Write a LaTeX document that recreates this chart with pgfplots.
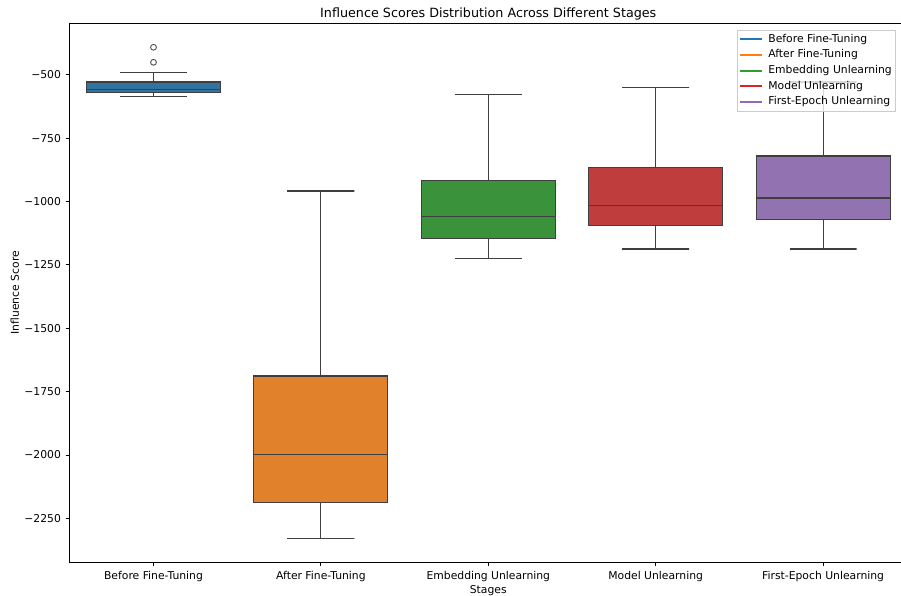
\documentclass[border=0pt]{standalone}
\usepackage{fontspec}
\setmainfont{DejaVu Sans}
\usepackage{pgfplots}
\pgfplotsset{compat=1.18}

\definecolor{boxA}{HTML}{3274A1}
\definecolor{boxB}{HTML}{E1812C}
\definecolor{boxC}{HTML}{3A923A}
\definecolor{boxD}{HTML}{C03D3E}
\definecolor{boxE}{HTML}{9372B2}
\definecolor{legA}{HTML}{1F77B4}
\definecolor{legB}{HTML}{FF7F0E}
\definecolor{legC}{HTML}{2CA02C}
\definecolor{legD}{HTML}{D62728}
\definecolor{legE}{HTML}{9467BD}
\definecolor{edge}{HTML}{3F3F3F}

\begin{document}
\begin{tikzpicture}
\useasboundingbox (-0.698in,-0.333in) rectangle (8.312in,5.627in);
\begin{axis}[
    scale only axis,
    width=8.37in, height=5.397in,
    xmin=-0.5, xmax=4.5,
    ymin=-2425, ymax=-296,
    axis line style={line width=0.6pt},
    xtick={0,1,2,3,4},
    xticklabels={Before Fine-Tuning, After Fine-Tuning, Embedding Unlearning, Model Unlearning, First-Epoch Unlearning},
    ytick={-2250,-2000,-1750,-1500,-1250,-1000,-750,-500},
    yticklabels={−2250,−2000,−1750,−1500,−1250,−1000,−750,−500},
    tick align=outside,
    xtick pos=bottom, ytick pos=left,
    major tick length=2.5pt,
    tick style={black, line width=0.6pt},
    tick label style={font=\fontsize{7.8}{9.4}\selectfont},
    yticklabel style={xshift=-0.4pt},
    every axis title shift=0pt,
    title={Influence Scores Distribution Across Different Stages},
    title style={font=\fontsize{9.2}{11}\selectfont,
        at={(axis description cs:0.5,1)}, anchor=base, yshift=0.057in},
    xlabel={Stages},
    ylabel={Influence Score},
    xlabel style={font=\fontsize{7.8}{9.4}\selectfont,
        at={(axis description cs:0.5,0)}, anchor=base, yshift=-0.303in},
    every axis y label/.style={font=\fontsize{7.8}{9.4}\selectfont,
        at={(axis description cs:-0.0607,0.5)}, rotate=90, anchor=base},
    legend style={at={(1,1)}, anchor=north east, xshift=-0.11in, yshift=-0.07in,
        draw=black!20, fill=white, fill opacity=0.8, inner sep=1.5pt,
        text opacity=1, font=\fontsize{7.8}{9.4}\selectfont,
        nodes={inner sep=1.2pt, text height=6pt, text depth=1.7pt},
        row sep=1.2pt, cells={anchor=west}},
    legend image code/.code={\draw[line width=1.4pt] (0pt,0pt) -- (15.5pt,0pt);
        \path (19pt,0pt);},
    bx/.style={forget plot, draw=edge, line width=0.8pt, no marks},
    wk/.style={forget plot, draw=edge, line width=0.8pt, no marks},
]
% Before Fine-Tuning
\addplot[bx, fill=boxA] coordinates {(-0.4,-571) (0.4,-571) (0.4,-528.8) (-0.4,-528.8)} --cycle;
\addplot[wk] coordinates {(-0.2,-586.8) (0.2,-586.8) (0,-586.8) (0,-571)};
\addplot[wk] coordinates {(-0.2,-490.5) (0.2,-490.5) (0,-490.5) (0,-528.8)};
\addplot[wk] coordinates {(-0.4,-557.6) (0.4,-557.6)};
\addplot[forget plot, only marks, mark=o, mark size=2.1pt,
    mark options={draw=edge, line width=0.6pt}]
    coordinates {(0,-391.9) (0,-451.1)};
% After Fine-Tuning
\addplot[bx, fill=boxB] coordinates {(0.6,-2186.9) (1.4,-2186.9) (1.4,-1688.6) (0.6,-1688.6)} --cycle;
\addplot[wk] coordinates {(0.8,-2328.9) (1.2,-2328.9) (1,-2328.9) (1,-2186.9)};
\addplot[wk] coordinates {(0.8,-958.8) (1.2,-958.8) (1,-958.8) (1,-1688.6)};
\addplot[wk] coordinates {(0.6,-1997.5) (1.4,-1997.5)};
% Embedding Unlearning
\addplot[bx, fill=boxC] coordinates {(1.6,-1145.4) (2.4,-1145.4) (2.4,-916.6) (1.6,-916.6)} --cycle;
\addplot[wk] coordinates {(1.8,-1225.9) (2.2,-1225.9) (2,-1225.9) (2,-1145.4)};
\addplot[wk] coordinates {(1.8,-577.3) (2.2,-577.3) (2,-577.3) (2,-916.6)};
\addplot[wk] coordinates {(1.6,-1060.2) (2.4,-1060.2)};
% Model Unlearning
\addplot[bx, fill=boxD] coordinates {(2.6,-1094.1) (3.4,-1094.1) (3.4,-865.3) (2.6,-865.3)} --cycle;
\addplot[wk] coordinates {(2.8,-1187.6) (3.2,-1187.6) (3,-1187.6) (3,-1094.1)};
\addplot[wk] coordinates {(2.8,-551.3) (3.2,-551.3) (3,-551.3) (3,-865.3)};
\addplot[wk] coordinates {(2.6,-1015.2) (3.4,-1015.2)};
% First-Epoch Unlearning
\addplot[bx, fill=boxE] coordinates {(3.6,-1070.5) (4.4,-1070.5) (4.4,-820.7) (3.6,-820.7)} --cycle;
\addplot[wk] coordinates {(3.8,-1187.6) (4.2,-1187.6) (4,-1187.6) (4,-1070.5)};
\addplot[wk] coordinates {(3.8,-528.8) (4.2,-528.8) (4,-528.8) (4,-820.7)};
\addplot[wk] coordinates {(3.6,-986.4) (4.4,-986.4)};

\addlegendimage{legA}\addlegendentry{Before Fine-Tuning}
\addlegendimage{legB}\addlegendentry{After Fine-Tuning}
\addlegendimage{legC}\addlegendentry{Embedding Unlearning}
\addlegendimage{legD}\addlegendentry{Model Unlearning}
\addlegendimage{legE}\addlegendentry{First-Epoch Unlearning}
\end{axis}
\end{tikzpicture}
\end{document}
